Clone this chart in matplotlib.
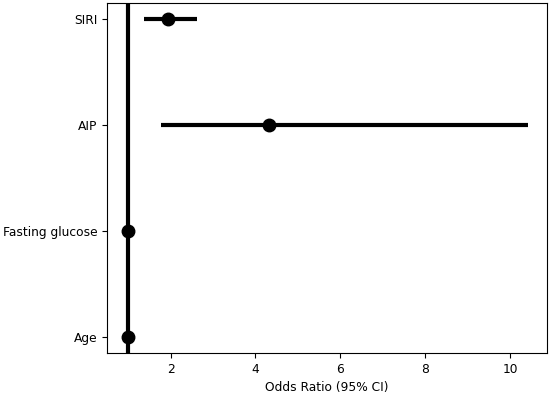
import numpy as np
import matplotlib.pyplot as plt

variables = ['Age', 'Fasting glucose', 'AIP', 'SIRI']
odds_ratio = [1.00, 1.00, 4.32, 1.93]
ci_low = [0.99, 0.99, 1.78, 1.38]
ci_high = [1.01, 1.01, 10.41, 2.63]

plt.rcParams['font.size'] = 8.8

fig = plt.figure(figsize=(5.5, 3.94), dpi=100)
ax = fig.add_axes([0.195, 0.104, 0.799, 0.8876])

y = np.arange(len(variables))
err = [np.array(odds_ratio) - np.array(ci_low), np.array(ci_high) - np.array(odds_ratio)]
ax.errorbar(odds_ratio, y, xerr=err, fmt='o', color='black', ecolor='black',
            elinewidth=3, markersize=9, capsize=0)
ax.axvline(x=1, color='black', linewidth=3)

ax.set_yticks(y)
ax.set_yticklabels(variables)
ax.set_xlim(0.51, 10.86)
ax.set_xlabel('Odds Ratio (95% CI)')

fig.savefig('out.png', dpi=100)
